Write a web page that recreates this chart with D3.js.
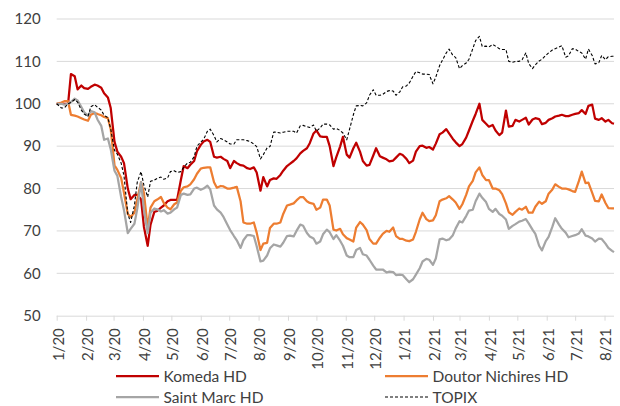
<!DOCTYPE html>
<meta charset="utf-8">
<style>
    body { margin: 0; background: #fff; }
    svg text { font-family: Lato, "Open Sans", sans-serif; fill: #404040; }
</style>
<svg id="chart" width="620" height="406"></svg>
<script src="https://d3js.org/d3.v7.min.js"></script>
<script>
    // closes on Mondays and Thursdays, indexed to 100 at the start of 2020
    const dates = [
        "2020-01-01",
        "2020-01-06", "2020-01-09", "2020-01-13", "2020-01-16", "2020-01-20", "2020-01-23", "2020-01-27", "2020-01-30",
        "2020-02-03", "2020-02-06", "2020-02-10", "2020-02-13", "2020-02-17", "2020-02-20", "2020-02-24", "2020-02-27",
        "2020-03-02", "2020-03-05", "2020-03-09", "2020-03-12", "2020-03-16", "2020-03-19", "2020-03-23", "2020-03-26",
        "2020-03-30", "2020-04-02", "2020-04-06", "2020-04-09", "2020-04-13", "2020-04-16", "2020-04-20", "2020-04-23",
        "2020-04-27", "2020-04-30", "2020-05-04", "2020-05-07", "2020-05-11", "2020-05-14", "2020-05-18", "2020-05-21",
        "2020-05-25", "2020-05-28", "2020-06-01", "2020-06-04", "2020-06-08", "2020-06-11", "2020-06-15", "2020-06-18",
        "2020-06-22", "2020-06-25", "2020-06-29", "2020-07-02", "2020-07-06", "2020-07-09", "2020-07-13", "2020-07-16",
        "2020-07-20", "2020-07-23", "2020-07-27", "2020-07-30", "2020-08-03", "2020-08-06", "2020-08-10", "2020-08-13",
        "2020-08-17", "2020-08-20", "2020-08-24", "2020-08-27", "2020-08-31", "2020-09-03", "2020-09-07", "2020-09-10",
        "2020-09-14", "2020-09-17", "2020-09-21", "2020-09-24", "2020-09-28", "2020-10-01", "2020-10-05", "2020-10-08",
        "2020-10-12", "2020-10-15", "2020-10-19", "2020-10-22", "2020-10-26", "2020-10-29", "2020-11-02", "2020-11-05",
        "2020-11-09", "2020-11-12", "2020-11-16", "2020-11-19", "2020-11-23", "2020-11-26", "2020-11-30", "2020-12-03",
        "2020-12-07", "2020-12-10", "2020-12-14", "2020-12-17", "2020-12-21", "2020-12-24", "2020-12-28", "2020-12-31",
        "2021-01-04", "2021-01-07", "2021-01-11", "2021-01-14", "2021-01-18", "2021-01-21", "2021-01-25", "2021-01-28",
        "2021-02-01", "2021-02-04", "2021-02-08", "2021-02-11", "2021-02-15", "2021-02-18", "2021-02-22", "2021-02-25",
        "2021-03-01", "2021-03-04", "2021-03-08", "2021-03-11", "2021-03-15", "2021-03-18", "2021-03-22", "2021-03-25",
        "2021-03-29", "2021-04-01", "2021-04-05", "2021-04-08", "2021-04-12", "2021-04-15", "2021-04-19", "2021-04-22",
        "2021-04-26", "2021-04-29", "2021-05-03", "2021-05-06", "2021-05-10", "2021-05-13", "2021-05-17", "2021-05-20",
        "2021-05-24", "2021-05-27", "2021-05-31", "2021-06-03", "2021-06-07", "2021-06-10", "2021-06-14", "2021-06-17",
        "2021-06-21", "2021-06-24", "2021-06-28", "2021-07-01", "2021-07-05", "2021-07-08", "2021-07-12", "2021-07-15",
        "2021-07-19", "2021-07-22", "2021-07-26", "2021-07-29", "2021-08-02", "2021-08-05", "2021-08-09", "2021-08-11"
    ];

    const komeda = [100,
        100, 100, 100, 107, 106.5, 103.4, 104.3, 103.7,
        103.5, 104, 104.5, 104.3, 103.8, 102.5, 101.5, 99,
        91, 88.7, 87.5, 86, 80, 77.5, 78.5, 78.5,
        77.5, 71, 66.5, 71.5, 74.5, 74.7, 75.5, 76,
        77, 77.3, 77.3, 77.3, 82, 85.3, 84.8, 85.6,
        86.5, 88.8, 90.3, 91.1, 91.5, 91, 87.5, 87.3,
        87.5, 87, 86.5, 84.8, 86.5, 86, 85.5, 85.4,
        84.8, 84.6, 85, 83.8, 79.5, 82.7, 80.5, 82,
        82.4, 82.3, 83.2, 84.2, 85.3, 85.8, 86.5, 87.1,
        88.3, 88.9, 89.5, 90.7, 93, 93.7, 92.3, 92.2,
        92.2, 90, 85.3, 87.4, 89.9, 92.2, 88, 87.3,
        89.5, 90.8, 88.7, 86.5, 85.4, 85.6, 87.8, 89.5,
        87.6, 87.3, 86.9, 86.4, 86.6, 87.3, 88.2, 87.9,
        87, 86, 86.6, 88.7, 90, 90.1, 89.6, 89.8,
        89.2, 90.6, 92.8, 93.2, 94, 93, 91.7, 90.9,
        90, 90.5, 92, 93.7, 96, 97.6, 100, 96.2,
        95.3, 94.6, 95, 93.7, 92.6, 93.2, 98.4, 94.6,
        94.8, 96.2, 95.8, 96.2, 96.7, 95.1, 96.3, 96.6,
        96.4, 95.2, 95.5, 96.2, 96.6, 97, 97.2, 97.4,
        97.1, 97.1, 97.4, 97.6, 97.8, 98.5, 97.6, 99.5,
        99.8, 96.5, 96.2, 96.6, 95.8, 96.2, 95.4, 95.3];

    const doutor = [100,
        100.3, 100.6, 100.6, 97.4, 97.2, 97, 96.6, 96.3,
        96, 97.4, 97.8, 97.6, 97.3, 96.9, 96.6, 94,
        85.5, 84.4, 82.5, 79, 74, 73.3, 74.3, 77.5,
        81.5, 79, 70.8, 75.5, 77, 77.4, 78, 76.6,
        75.5, 75.1, 76.3, 76.7, 79.5, 80.3, 80.5, 81,
        82.2, 83.5, 84.7, 84.9, 85, 85, 81.5, 80.2,
        80.6, 80.5, 80, 80, 80.2, 80.4, 77, 72,
        71.7, 71.7, 72, 69.6, 65.5, 67, 67.2, 70.7,
        71.7, 71.7, 72, 74, 76, 76.2, 76.5, 77.2,
        78, 78, 77, 76.6, 76.4, 75, 75.5, 77.4,
        77.4, 76, 70.3, 70.1, 70.5, 69.2, 68.3, 68,
        67.5, 70.8, 72.1, 71.5, 70.2, 68.1, 67, 67,
        68.4, 69.3, 70, 69.8, 70.8, 68.8, 68.1, 68.1,
        67.7, 67.6, 68, 69.8, 72.7, 74.3, 72.8, 72.3,
        72.5, 73.7, 77, 77.4, 77.7, 78.2, 77.4, 76.7,
        75.2, 76.3, 78.5, 80.5, 81.8, 83.8, 85, 83.2,
        82, 82, 80, 80, 79.6, 78.7, 76.5, 74.4,
        73.8, 74.5, 75.3, 75, 75.7, 74.3, 74.3, 75.7,
        76.9, 76.4, 77, 78.8, 79.8, 81, 80.4, 80,
        80, 79.8, 79.4, 79.2, 81.8, 84, 81.3, 81.4,
        79, 77.1, 77, 78.6, 76.6, 75.4, 75.3, 75.3];

    const saintMarc = [100,
        100, 99.8, 100, 100.4, 101.2, 100.8, 99.2, 98,
        97.2, 98.3, 98, 96.3, 94.8, 91.5, 91.8, 89.3,
        84.2, 83, 78, 74.9, 69.5, 70.5, 71.7, 75.2,
        81.5, 75, 69.5, 74.3, 75.3, 75.1, 74.6, 74.9,
        74.1, 74.3, 75.1, 75.5, 78.5, 78.8, 78.5, 78.6,
        80, 80.2, 79.7, 80, 80.7, 79.8, 76, 75.1,
        74.3, 73.3, 71.5, 70.2, 68.8, 67.8, 66, 67.8,
        69, 69, 68.8, 66.4, 62.8, 63, 64.2, 65.9,
        66.8, 66.6, 66.3, 67.2, 68.8, 68.9, 68.7, 70,
        71.5, 71.2, 69.5, 68.7, 68.2, 67, 67.5, 69.2,
        70.3, 69.7, 68.1, 69, 67.7, 66.5, 64.2, 63.8,
        63.8, 65.5, 66, 64.5, 64.2, 63.2, 61.8, 60.9,
        60.9, 60.9, 60.2, 60.4, 60.3, 59.6, 59.7, 59.6,
        58.6, 57.9, 58.6, 59.7, 61.2, 62.8, 63.4, 63.2,
        62, 63.5, 68, 68.2, 67.8, 68, 69, 70.6,
        72.3, 72, 73.5, 74.8, 75, 77, 78.8, 77.8,
        76.8, 75.2, 74.5, 75.2, 74, 73.6, 72.7, 70.5,
        71.2, 71.6, 72.2, 72.4, 72.8, 71.8, 70.3, 69.3,
        66.5, 65.4, 67.6, 68.6, 71, 73, 71.5, 70.5,
        69.6, 68.5, 68.8, 69, 69.4, 70.4, 68.9, 68.7,
        68.2, 67.5, 68.2, 68.1, 67, 66, 65.3, 65];

    const topix = [100,
        99, 99, 100, 100.3, 101, 100.4, 98.5, 97.6,
        97, 99.3, 99.8, 99.2, 98.5, 97.3, 96.7, 94,
        89, 88.1, 86, 83, 74, 72, 76, 81.5,
        84, 80.8, 78, 81.7, 82, 82.4, 82.7, 82.2,
        82.5, 84, 84.2, 83.8, 84, 85, 86, 86.2,
        87.5, 90, 91, 91.6, 93.5, 94, 92.5, 91,
        91.8, 91.5, 91, 90.5, 90.5, 91.5, 91.5, 91.5,
        91.3, 91.1, 90.5, 89.9, 87, 88, 89.6, 89.9,
        93.3, 93.3, 93.1, 93.3, 93.5, 93.5, 93.5, 93.1,
        94.8, 94.9, 94.6, 94.4, 95, 93.5, 94.3, 95.2,
        95.2, 95, 94, 94.2, 93.7, 93.1, 91.5, 94,
        97.4, 99.5, 99.6, 99.5, 100.2, 102, 103.3, 102,
        102, 102.2, 102.9, 103.1, 103, 102, 102.8, 104,
        104.2, 104.9, 106.5, 107.6, 107.3, 107, 107, 106.9,
        104.7, 106.3, 109, 110.3, 112, 112.9, 111.4, 110.9,
        108.3, 109, 109.6, 110.5, 113, 114.9, 115.9, 113.5,
        113.6, 113.4, 114, 113.6, 113, 112.8, 112.8, 110,
        109.8, 110, 110, 110.4, 112, 109.5, 108.3, 109.2,
        110.1, 110.5, 111.4, 112, 112.7, 113, 113.4, 113.7,
        111, 111.3, 113, 112.9, 112.3, 112, 110.5, 112.9,
        111.4, 109.4, 109.7, 111.4, 110.4, 111.1, 111.2, 111.2];

    const yTicks = [50, 60, 70, 80, 90, 100, 110, 120];

    const series = [
        {name: "Komeda HD", values: komeda, color: "#C00000", width: 2.25, dash: null},
        {name: "Doutor Nichires HD", values: doutor, color: "#ED7D31", width: 2.25, dash: null},
        {name: "Saint Marc HD", values: saintMarc, color: "#A5A5A5", width: 2.25, dash: null},
        {name: "TOPIX", values: topix, color: "#000000", width: 1.1, dash: "3,2"}
    ];

    const parse = d3.timeParse("%Y-%m-%d");
    const time = dates.map(parse);

    const svg = d3.select("#chart");
    const plotLeft = 56.7, plotRight = 614, plotTop = 19, plotBottom = 315.7;

    const x = d3.scaleTime()
        .domain([time[0], time[time.length - 1]])
        .range([plotLeft, plotRight]);

    const y = d3.scaleLinear()
        .domain([50, 120])
        .range([plotBottom, plotTop]);

    // gridlines
    svg.append("g")
        .selectAll("line")
        .data(yTicks.slice(1))
        .join("line")
        .attr("x1", plotLeft).attr("x2", plotRight)
        .attr("y1", d => y(d)).attr("y2", d => y(d))
        .attr("stroke", "#D9D9D9").attr("stroke-width", 1);

    // y axis labels
    const yAxis = svg.append("g")
        .attr("transform", `translate(${plotLeft},0)`)
        .call(d3.axisLeft(y).tickValues(yTicks).tickSize(0).tickPadding(16));
    yAxis.select(".domain").remove();
    yAxis.selectAll("text")
        .attr("font-size", 15)
        .attr("font-family", "Lato, sans-serif")
        .attr("fill", "#404040");

    // x axis
    const monthTicks = d3.timeMonth.range(d3.timeMonth.ceil(time[0]), time[time.length - 1]);
    const xAxis = svg.append("g")
        .attr("transform", `translate(0,${plotBottom})`)
        .call(d3.axisBottom(x).tickValues(monthTicks).tickSize(5).tickFormat(d3.timeFormat("%-m/%y")));
    xAxis.select(".domain").attr("stroke", "#D9D9D9").attr("d", `M${plotLeft},0.5H${plotRight}`);
    xAxis.selectAll(".tick line").attr("stroke", "#D9D9D9");
    xAxis.selectAll("text")
        .attr("font-size", 15)
        .attr("font-family", "Lato, sans-serif")
        .attr("fill", "#404040")
        .attr("text-anchor", "end")
        .attr("transform", "rotate(-90)")
        .attr("x", -12.5)
        .attr("y", 0)
        .attr("dy", "0.42em");

    // lines
    const line = values => d3.line()
        .x((d, i) => x(time[i]))
        .y(d => y(d))(values);

    svg.append("g")
        .selectAll("path")
        .data(series)
        .join("path")
        .attr("d", d => line(d.values))
        .attr("fill", "none")
        .attr("stroke", d => d.color)
        .attr("stroke-width", d => d.width)
        .attr("stroke-dasharray", d => d.dash)
        .attr("stroke-linejoin", "round");

    // legend
    const legendPos = [
        {x: 116, y: 376}, {x: 385, y: 376},
        {x: 116, y: 397}, {x: 385, y: 397}
    ];
    const legend = svg.append("g")
        .selectAll("g")
        .data(series)
        .join("g")
        .attr("transform", (d, i) => `translate(${legendPos[i].x},${legendPos[i].y})`);
    legend.append("line")
        .attr("x1", 0).attr("x2", 43)
        .attr("stroke", d => d.color)
        .attr("stroke-width", d => d.width)
        .attr("stroke-dasharray", d => d.dash);
    legend.append("text")
        .attr("x", 47.5)
        .attr("dy", "0.36em")
        .attr("font-size", 15.5)
        .text(d => d.name);
</script>
